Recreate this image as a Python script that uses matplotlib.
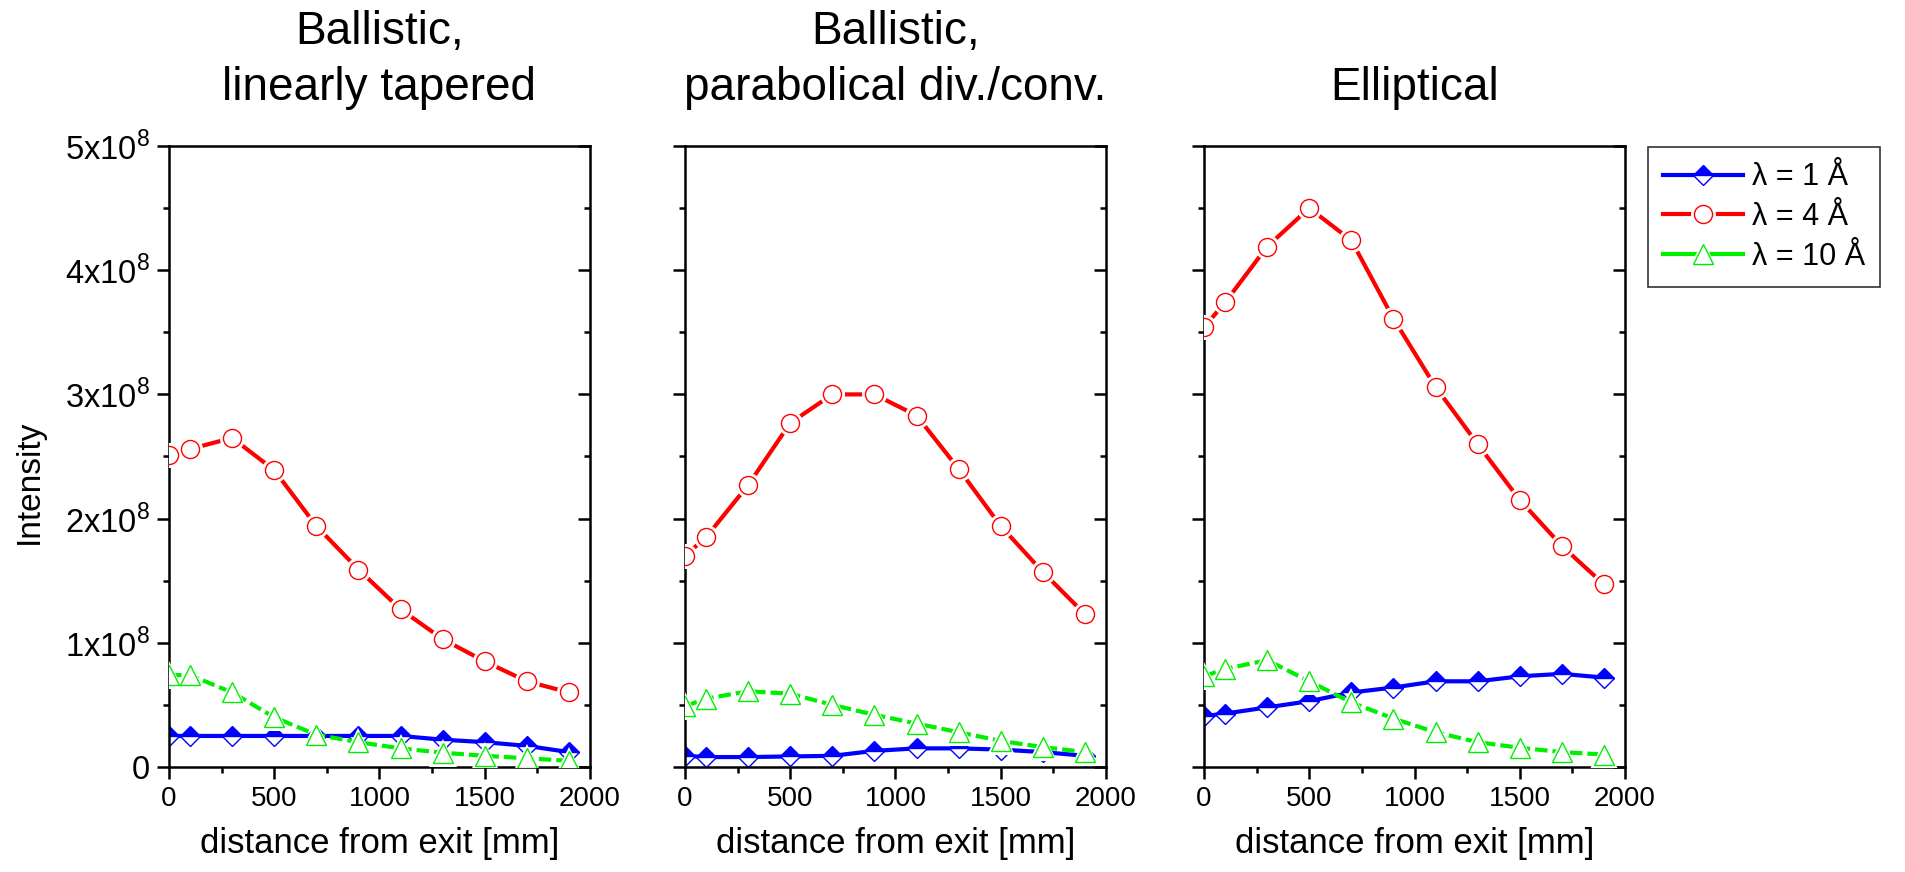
import matplotlib
matplotlib.use("Agg")
import matplotlib.pyplot as plt
from matplotlib.ticker import MultipleLocator, FixedLocator, FixedFormatter
from matplotlib.legend_handler import HandlerTuple
from matplotlib.lines import TICKLEFT

plt.rcParams["font.family"] = ["Liberation Sans", "DejaVu Sans"]
plt.rcParams["mathtext.fontset"] = "custom"
plt.rcParams["mathtext.rm"] = "Liberation Sans"

# distance from guide exit [mm]
distance = [0, 100, 300, 500, 700, 900, 1100, 1300, 1500, 1700, 1900]

titles = ["Ballistic,\nlinearly tapered",
          "Ballistic,\nparabolical div./conv.",
          "Elliptical"]

# intensities in units of 1e8
lin_1A = [0.25, 0.25, 0.25, 0.25, 0.25, 0.25, 0.25, 0.22, 0.20, 0.17, 0.12]
lin_4A = [2.51, 2.56, 2.65, 2.39, 1.94, 1.59, 1.27, 1.03, 0.85, 0.69, 0.60]
lin_10A = [0.74, 0.74, 0.60, 0.40, 0.26, 0.20, 0.15, 0.115, 0.09, 0.07, 0.05]

par_1A = [0.09, 0.08, 0.08, 0.085, 0.09, 0.13, 0.15, 0.15, 0.14, 0.12, 0.09]
par_4A = [1.70, 1.85, 2.27, 2.77, 3.00, 3.00, 2.83, 2.40, 1.94, 1.57, 1.23]
par_10A = [0.49, 0.55, 0.61, 0.59, 0.50, 0.42, 0.35, 0.28, 0.21, 0.16, 0.12]

ell_1A = [0.41, 0.43, 0.48, 0.53, 0.60, 0.64, 0.69, 0.69, 0.73, 0.75, 0.72]
ell_4A = [3.54, 3.74, 4.19, 4.50, 4.24, 3.61, 3.06, 2.60, 2.15, 1.78, 1.47]
ell_10A = [0.73, 0.79, 0.86, 0.69, 0.52, 0.39, 0.28, 0.20, 0.155, 0.12, 0.10]

panels = [(lin_1A, lin_4A, lin_10A),
          (par_1A, par_4A, par_10A),
          (ell_1A, ell_4A, ell_10A)]

series_labels = ["λ = 1 Å", "λ = 4 Å", "λ = 10 Å"]

yticks = [0, 1, 2, 3, 4, 5]
ytick_labels = ["0"] + [r"%dx10$^{\mathregular{8}}$" % v for v in yticks[1:]]

BLUE, RED, GREEN = "#0000ff", "#ff0000", "#00ee00"

fig = plt.figure(figsize=(19.06, 8.72), dpi=100)

W, H = 1906.0, 872.0
lefts = [169, 685, 1204]
ax_w = 421
ax_bottom = 105
ax_h = 621

LW = 3.0
legend_handles = []
for i, (s1, s4, s10) in enumerate(panels):
    ax = fig.add_axes([lefts[i] / W, ax_bottom / H, ax_w / W, ax_h / H])
    y1 = [v * 1e8 for v in s1]
    y4 = [v * 1e8 for v in s4]
    y10 = [v * 1e8 for v in s10]

    # 1 Å: solid blue, half-filled diamonds
    h1, = ax.plot(distance, y1, color=BLUE, lw=LW, zorder=2,
                  marker="D", ms=10.5, mfc=BLUE, mfcalt="white",
                  fillstyle="top", mec=BLUE, mew=1.0)

    # 4 Å: solid red, broken around the open circles
    l4, = ax.plot(distance, y4, color=RED, lw=LW, zorder=3)
    g4, = ax.plot(distance, y4, ls="none", marker="o", ms=18, mfc="white",
                  mec="white", mew=0, zorder=3.1)
    h4, = ax.plot(distance, y4, ls="none", marker="o", ms=13, mfc="white",
                  mec=RED, mew=1.0, zorder=3.2)

    # 10 Å: dashed green with open triangles
    l10, = ax.plot(distance, y10, color=GREEN, lw=LW, ls=(0, (3.0, 1.2)),
                   zorder=4)
    g10, = ax.plot(distance, y10, ls="none", marker="^", ms=19.5,
                   mfc="white", mec="white", mew=0, zorder=4.1)
    h10, = ax.plot(distance, y10, ls="none", marker="^", ms=14.5,
                   mfc="white", mec=GREEN, mew=1.0, zorder=4.2)
    if i == 0:
        l10_leg, = ax.plot([], [], color=GREEN, lw=LW)
        legend_handles = [h1, (l4, g4, h4), (l10_leg, g10, h10)]

    ax.set_xlim(0, 2000)
    ax.set_ylim(0, 5e8)
    ax.xaxis.set_major_locator(MultipleLocator(500))
    ax.xaxis.set_minor_locator(MultipleLocator(250))
    ax.yaxis.set_major_locator(FixedLocator([v * 1e8 for v in yticks]))
    ax.yaxis.set_minor_locator(MultipleLocator(0.5e8))
    if i == 0:
        ax.yaxis.set_major_formatter(FixedFormatter(ytick_labels))
    else:
        ax.tick_params(axis="y", which="both", labelleft=False)

    for sp in ax.spines.values():
        sp.set_linewidth(1.8)
    ax.tick_params(axis="both", which="major", direction="out", length=8.5,
                   width=1.8)
    ax.tick_params(axis="x", which="major", labelsize=20, pad=5)
    ax.tick_params(axis="y", which="major", labelsize=23.5, pad=5.5)
    ax.tick_params(axis="both", which="minor", direction="out", length=4.5,
                   width=1.8)
    ax.tick_params(axis="y", which="both", right=True)
    # inward ticks on the right spine
    for t in ax.yaxis.get_major_ticks() + ax.yaxis.get_minor_ticks():
        t.tick2line.set_marker(TICKLEFT)

    ax.set_xlabel("distance from exit [mm]", fontsize=25, labelpad=11)
    ax.set_title(titles[i], fontsize=33, linespacing=1.37, pad=33)
    if i == 0:
        ax.set_ylabel("Intensity", fontsize=24)
        ax.yaxis.set_label_coords(-0.2945, 0.459)

leg = fig.legend(legend_handles, series_labels, loc="upper left",
                 bbox_to_anchor=(1648 / W, 1 - 147 / H), fontsize=22,
                 frameon=True, fancybox=False, edgecolor="black",
                 handlelength=2.6, handletextpad=0.3, borderpad=0.5,
                 labelspacing=0.32, borderaxespad=0,
                 handler_map={tuple: HandlerTuple(ndivide=1)})
leg.get_frame().set_linewidth(1.2)

fig.savefig("out.png", dpi=100)
